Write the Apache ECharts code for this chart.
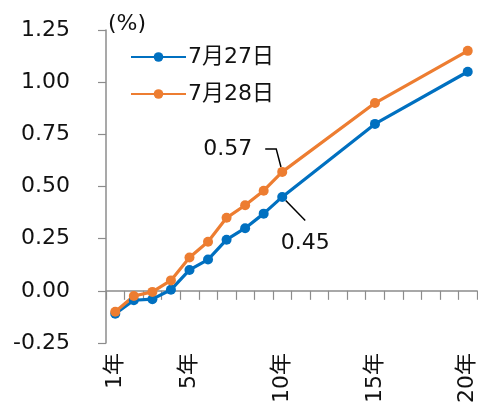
<!DOCTYPE html>
<html><head><meta charset="utf-8">
<script src="https://cdn.jsdelivr.net/npm/echarts@6/dist/echarts.min.js"></script>
<style>html,body{margin:0;padding:0;background:#fff}#c{width:478px;height:403px}</style>
</head><body><div id="c"></div>
<script>
const categories = ['1','2','3','4','5','6','7','8','9','10','11','12','13','14','15','16','17','18','19','20'];
const tickLabels = {'1':'1年','5':'5年','10':'10年','15':'15年','20':'20年'};
const seriesNames = ['7月27日','7月28日'];
const jul27 = [-0.11,-0.045,-0.04,0.005,0.10,0.15,0.245,0.30,0.37,0.45,null,null,null,null,0.80,null,null,null,null,1.05];
const jul28 = [-0.10,-0.025,-0.005,0.05,0.16,0.235,0.35,0.41,0.48,0.57,null,null,null,null,0.90,null,null,null,null,1.15];
const yTicks = {min:-0.25,max:1.25,interval:0.25};
const calloutIndex = 9;

const font = 'DejaVu Sans, "Noto Sans CJK JP", sans-serif';
const FS = 22;
const chart = echarts.init(document.getElementById('c'));
function mkSeries(name, data, color, lab) {
  return {
    name, type:'line', connectNulls:true, xAxisIndex:0,
    symbol:'circle', symbolSize:10,
    lineStyle:{color, width:3.2}, itemStyle:{color},
    label:{show:false},
    labelLayout: p => p.dataIndex===calloutIndex ? {dx:lab.dx, dy:lab.dy} : {},
    labelLine:{show:true, length2:lab.len2, minTurnAngle:0, lineStyle:{color:'#000', width:1.5}},
    data: data.map((v,i)=> i===calloutIndex ? {value:v, label:{show:true, position:'inside', padding:lab.pad,
        backgroundColor:'rgba(255,255,255,0)',
        formatter:String(v), fontSize:FS, color:'#111', fontFamily:font}} : v),
    animation:false, emphasis:{disabled:true}
  };
}
chart.setOption({
  animation:false,
  grid:{left:106, right:1, top:30, bottom:60, containLabel:false, outerBoundsMode:'none'},
  legend:{
    orient:'vertical', left:130, top:46, padding:0, itemGap:15, itemWidth:55, itemHeight:12,
    textStyle:{fontSize:FS, color:'#111', fontFamily:font, padding:[0,0,0,-3]},
    data: seriesNames
  },
  xAxis:[{
    type:'category', data:categories, boundaryGap:true,
    axisLine:{onZero:true, lineStyle:{color:'#8c8c8c', width:1.5}},
    axisTick:{show:true, alignWithLabel:false, interval:0, length:9, inside:false, lineStyle:{color:'#8c8c8c', width:1.2}},
    axisLabel:{show:false}, splitLine:{show:false}
  },{
    type:'category', data:categories, boundaryGap:true, position:'bottom',
    axisLine:{show:false, onZero:false}, axisTick:{show:false},
    axisLabel:{show:true, rotate:90, interval:0, margin:10, fontSize:FS, color:'#111', fontFamily:font,
      formatter: v => tickLabels[v] || ''}
  }],
  yAxis:{
    type:'value', min:yTicks.min, max:yTicks.max, interval:yTicks.interval,
    name:'(%)', nameLocation:'end', nameGap:-5,
    nameTextStyle:{fontSize:FS, color:'#111', fontFamily:font, align:'left', padding:[0,0,0,2]},
    axisLine:{show:true, lineStyle:{color:'#8c8c8c', width:1.5}},
    axisTick:{show:true, length:8, lineStyle:{color:'#8c8c8c', width:1.2}},
    axisLabel:{fontSize:FS, color:'#111', fontFamily:font, margin:36, formatter:v=>v.toFixed(2)},
    splitLine:{show:false}
  },
  series:[
    mkSeries(seriesNames[0], jul27, '#0070C0', {dx:23, dy:46, pad:[23,0,0,0], len2:0}),
    mkSeries(seriesNames[1], jul28, '#ED7D31', {dx:-48, dy:-23, pad:[0,13,0,0], len2:11})
  ]
});
</script></body></html>
